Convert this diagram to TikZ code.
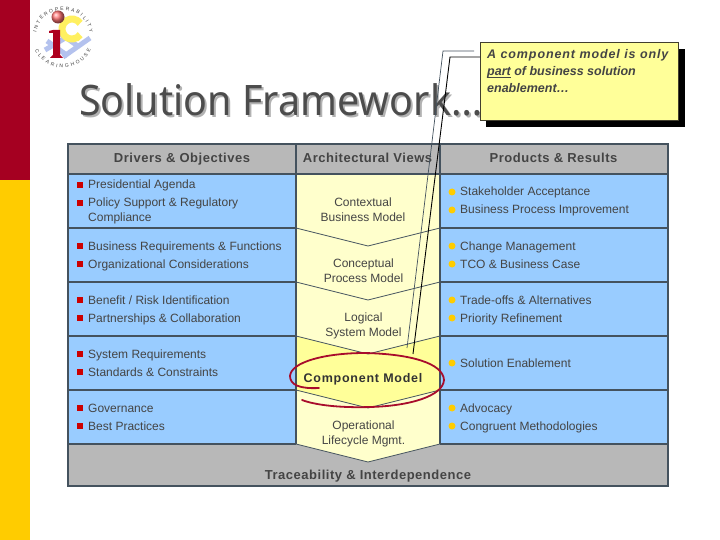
\documentclass[tikz,border=0pt]{standalone}
\usepackage{fontspec}
\setmainfont{Liberation Sans}
\newfontfamily\titlefont[FakeStretch=0.94]{Noto Sans}
\newfontfamily\headfont[LetterSpace=4]{Liberation Sans}
\usetikzlibrary{decorations.text}
\definecolor{barred}{HTML}{A50021}
\definecolor{baryellow}{HTML}{FFCC00}
\definecolor{cellblue}{HTML}{99CCFF}
\definecolor{cellcream}{HTML}{FFFFCC}
\definecolor{celllemon}{HTML}{FFFF99}
\definecolor{cellgray}{HTML}{B8B8B8}
\definecolor{gridline}{HTML}{44525E}
\definecolor{inktext}{HTML}{444444}
\definecolor{logoblue}{HTML}{B4C2EE}
\definecolor{logogold}{HTML}{FFF060}
\definecolor{pendark}{HTML}{A80C2C}
\tikzset{
	celltext/.style={anchor=base west, inner sep=0pt, text=inktext, font=\fontsize{12}{14}\selectfont},
	midtext/.style={inner sep=0pt, text=inktext, align=center, font=\fontsize{12}{15}\selectfont},
	headtext/.style={anchor=base, inner sep=0pt, text=inktext, font=\headfont\fontsize{13}{15}\selectfont\bfseries},
	redbullet/.style={fill=red!80!black, inner sep=0pt, minimum size=6pt},
	goldbullet/.style={circle, fill=baryellow, inner sep=0pt, minimum size=7pt},
	logotext/.style={decorate, decoration={text along path, text align=fit to path, text color=black!75,
		text format delimiters={|}{|}, text={|\fontsize{5}{5}\selectfont|#1}}}
}
\begin{document}
\begin{tikzpicture}[x=1pt, y=-1pt]
	\useasboundingbox (0,0) rectangle (720,540);
	\fill[white] (0,0) rectangle (720,540);
	\fill[barred] (0,0) rectangle (30,180);
	\fill[baryellow] (0,180) rectangle (30,540);
	% logo
	\draw[logoblue, line width=5pt] (45,50) -- (67,37) (63,57) -- (90,38) (47,41) -- (68,56) (61,34) -- (79,47);
	\draw[logogold, line width=7pt] (72,29) ++(-35:10) arc (-35:-325:10);
	\fill[barred!90!red] (53,30) -- (60,30) -- (60,55) -- (63,58) -- (50,58) -- (53,55) -- (53,33) -- (49,33) -- (49,31) -- cycle;
	\shade[ball color=red!55!white] (58,17) circle (6.5);
	\path[logotext=INTEROPERABILITY] (36.4,32.3) .. controls (41.6,2.6) and (84.4,2.6) .. (89.6,32.3);
	\path[logotext=CLEARINGHOUSE] (35,50) .. controls (46.1,73.8) and (79.9,73.8) .. (91,50);
	% title
	\node[anchor=base west, inner sep=0pt, text=black!30, font=\titlefont\fontsize{42}{42}\selectfont] (titleshadow) at (81,118) {Solution Framework…};
	\node[anchor=base west, inner sep=0pt, text=black!70, font=\titlefont\fontsize{42}{42}\selectfont] (title) at (79,116) {Solution Framework…};
	% table
	\fill[cellgray] (68,144) rectangle (668,486);
	\fill[cellblue] (68,174) rectangle (296,444) (440,174) rectangle (668,444);
	\fill[cellcream] (296,174) -- (440,174) -- (440,444) -- (368,462) -- (296,444) -- cycle;
	\fill[celllemon] (296,336) -- (368,354) -- (440,336) -- (440,390) -- (368,408) -- (296,390) -- cycle;
	\foreach \rowy in {228,282,336,390} {
		\draw[gridline, line width=1.5pt] (68,\rowy) -- (296,\rowy) (440,\rowy) -- (668,\rowy);
	}
	\foreach \rowy in {228,282,336,390,444} {
		\draw[gridline, line width=0.8pt] (296,\rowy) -- (368,\rowy+18) -- (440,\rowy);
	}
	\draw[gridline, line width=1.5pt] (68,174) -- (668,174) (68,444) -- (296,444) (440,444) -- (668,444);
	\draw[gridline, line width=1.5pt] (296,144) -- (296,444) (440,144) -- (440,444);
	\draw[gridline, line width=1.5pt] (68,144) rectangle (668,486);
	% headers
	\node[headtext] (drivers) at (182,163) {Drivers \& Objectives};
	\node[headtext] (views) at (367.5,163) {Architectural Views};
	\node[headtext] (products) at (553.5,163) {Products \& Results};
	\node[headtext] (trace) at (368,479) {Traceability \& Interdependence};
	% left column
	\foreach \itemy/\itemtext [count=\i] in {
		185/Presidential Agenda,
		203/Policy Support \& Regulatory,
		246/Business Requirements \& Functions,
		264/Organizational Considerations,
		300/{Benefit / Risk Identification},
		318/Partnerships \& Collaboration,
		354/System Requirements,
		372/Standards \& Constraints,
		408/Governance,
		426/Best Practices} {
		\node[redbullet] (leftmark\i) at (80,\itemy) {};
		\node[celltext] (left\i) at (88,\itemy+4) {\itemtext};
	}
	\node[celltext] (leftmore) at (88,222) {Compliance};
	% right column
	\foreach \itemy/\itemtext [count=\i] in {
		192/Stakeholder Acceptance,
		210/Business Process Improvement,
		246/Change Management,
		264/TCO \& Business Case,
		300/Trade-offs \& Alternatives,
		318/Priority Refinement,
		363/Solution Enablement,
		408/Advocacy,
		426/Congruent Methodologies} {
		\node[goldbullet] (rightmark\i) at (452,\itemy) {};
		\node[celltext] (right\i) at (460,\itemy+4) {\itemtext};
	}
	% middle column
	\node[midtext] (contextual) at (363,210) {Contextual\\Business Model};
	\node[midtext] (conceptual) at (363.5,271) {Conceptual\\Process Model};
	\node[midtext] (logical) at (363.5,326) {Logical\\System Model};
	\node[inner sep=0pt, text=black!80, font=\fontsize{12.5}{15}\selectfont\bfseries] (component) at (363,379) {\addfontfeature{LetterSpace=6}Component Model};
	\node[midtext] (operational) at (363.5,434) {Operational\\Lifecycle Mgmt.};
	% pen stroke
	\draw[pendark, line width=1.8pt, line cap=round]
	(319,388) .. controls (300,389) and (290,385) .. (290,376)
	.. controls (291,362) and (325,353) .. (365,353)
	.. controls (410,354) and (443,363) .. (444,380)
	.. controls (443,396) and (410,406) .. (370,407)
	.. controls (340,408) and (315,405) .. (302,400);
	% callout
	\fill[black] (486,49) rectangle (685,127);
	\node[draw=black!70!olive, line width=0.6pt, fill=celllemon, anchor=north west, minimum width=198pt, minimum height=78pt, inner sep=0pt] (note) at (480,42) {};
	\node[anchor=north west, inner sep=0pt, align=left, text=inktext, font=\fontsize{12.5}{17}\selectfont\bfseries\itshape] (notetext) at (487,49.5) {\addfontfeature{LetterSpace=7.2}A component model is only\\\underline{\smash{part}} of business solution\\enablement…};
	\coordinate (graybend) at (443,51);
	\coordinate (grayend) at (407,348);
	\coordinate (blackbend) at (450,57);
	\coordinate (blackend) at (413,354);
	\draw[gridline, line width=0.7pt] (474,51) -- (graybend) -- (grayend);
	\draw[black, line width=0.9pt] (note.west |- blackbend) -- (blackbend) -- (blackend);
\end{tikzpicture}
\end{document}
